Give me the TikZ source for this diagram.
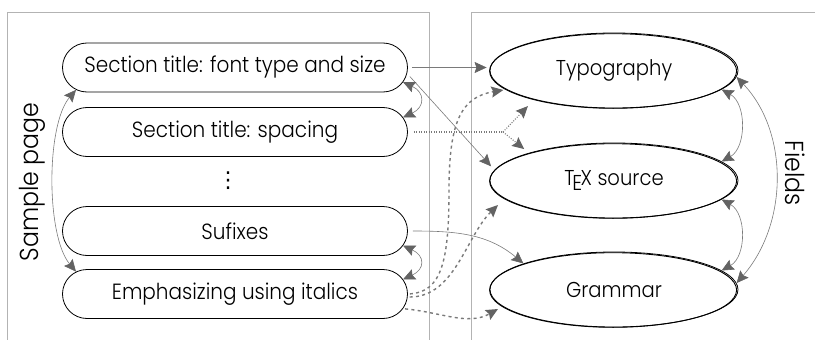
\documentclass[tikz,border=0pt]{standalone}
\usepackage{fontspec}
\IfFontExistsTF{Poppins Light}{\setmainfont{Poppins Light}[FakeStretch=0.91]}{\setmainfont{Poppins}[FakeStretch=0.91]}
\newfontfamily\symfont{DejaVu Sans}
\usetikzlibrary{shapes.misc,shapes.geometric,arrows.meta}
\definecolor{framegray}{HTML}{B3B3B3}
\definecolor{linegray}{HTML}{7A7A7A}
\definecolor{tipgray}{HTML}{636363}
\newcommand{\mytexlogo}{\hbox{T\kern-.1em\lower.45ex\hbox{E}\kern-.07em X}}
\tikzset{
  gtip/.tip={Stealth[length=12pt,width=11pt,inset=1.8pt,color=tipgray]},
  frameline/.style={draw=framegray, line width=1pt},
  pagenode/.style={rounded rectangle, draw=black, line width=0.8pt,
    minimum width=345pt, minimum height=49pt, inner sep=0pt,
    font=\fontsize{22}{24}\selectfont},
  fieldnode/.style={ellipse, draw=black, line width=0.8pt,
    minimum width=248pt, minimum height=75pt, inner sep=0pt,
    font=\fontsize{21.5}{23}\selectfont},
  sidelabel/.style={font=\fontsize{26}{28}\selectfont, inner sep=0pt},
  solidarrow/.style={draw=linegray, line width=0.6pt, -gtip},
  bothway/.style={draw=linegray, line width=0.6pt, gtip-gtip},
  dasharrow/.style={draw=linegray, line width=1.4pt, dash pattern=on 3pt off 3.3pt, -gtip},
  dotline/.style={draw=linegray, line width=1.1pt, dash pattern=on 1pt off 1.5pt},
}
\begin{document}
\begin{tikzpicture}[x=1pt,y=-1pt]
\useasboundingbox (0,0) rectangle (815,340);
% frames
\draw[frameline] (7,340) -- (7,12) -- (429,12) -- (429,340);
\draw[frameline] (471,340) -- (471,12) -- (815,12);
% left nodes
\node[pagenode] (sec1) at (235,67.5) {Section title: font type and size};
\node[pagenode] (sec2) at (235,132) {Section title: spacing};
\node[inner sep=0pt, font=\symfont\fontsize{22}{24}\selectfont] (dots) at (228,181) {⋮};
\node[pagenode] (suf) at (235,231) {Sufixes};
\node[pagenode] (emph) at (235,294) {Emphasizing using italics};
% right nodes
\node[fieldnode] (typo) at (614,70.5) {Typography};
\node[fieldnode] (tex) at (614,180.5) {\mytexlogo\ source};
\node[fieldnode] (gram) at (614,289.5) {Grammar};
\foreach \n in {typo,tex,gram}
  \draw[line width=0.9pt] ([xshift=-0.9pt,yshift=-0.5pt]\n.center) ellipse [x radius=123.5pt, y radius=37.3pt];
% side labels
\node[sidelabel, rotate=90] (sample) at (32,182) {Sample page};
\node[sidelabel, rotate=-90] (fields) at (795,173) {Fields};
% left big arrow
\draw[bothway] (sec1.-172) .. controls +(-30pt,-35pt) and +(-30pt,36pt) .. (emph.172);
% sec1 connectors
\draw[solidarrow, shorten <=4pt, shorten >=3pt] (sec1.east) -- (sec1.east -| typo.west);
\draw[solidarrow, shorten <=4pt, shorten >=5pt] (sec1.-2) -- (tex.175);
\draw[bothway] (sec1.-5) .. controls +(22pt,-10pt) and +(22pt,10pt) .. (sec2.5);
% sec2 dotted fork
\coordinate (fork) at (503,132);
\draw[dotline, shorten <=6pt] (sec2.east) -- (fork);
\draw[dotline, -gtip, shorten >=9pt] (fork) -- (typo.200);
\draw[dotline, -gtip, shorten >=6pt] (fork) -- (tex.162);
% suf connectors
\draw[solidarrow, shorten <=5pt] (suf.east) to[out=0,in=140] (gram.164);
\draw[bothway] (suf.-5) .. controls +(22pt,-10pt) and +(22pt,10pt) .. (emph.5);
% emph dashed connectors
\draw[dasharrow, shorten <=2pt, shorten >=3pt] (emph.0.5) .. controls (442,292) and (449,260) .. (449,190)
   .. controls (449,120) and (462,97) .. (typo.190);
\coordinate (tb) at (498,205);
\draw[dasharrow, shorten <=2pt] (emph.-1.5) .. controls (455,297) and (466,236) .. (tb);
\coordinate (tc) at (498,309);
\draw[dasharrow, shorten <=2pt] (emph.-5.5) .. controls (440,312) and (468,326) .. (tc);
% right side arrows
\draw[bothway] (typo.-10) .. controls +(25pt,-14pt) and +(25pt,14pt) .. (tex.10);
\draw[bothway] (tex.-10) .. controls +(25pt,-14pt) and +(25pt,14pt) .. (gram.10);
\draw[bothway] (typo.-3) .. controls +(52pt,-55pt) and +(52pt,60pt) .. (gram.3);
\end{tikzpicture}
\end{document}
